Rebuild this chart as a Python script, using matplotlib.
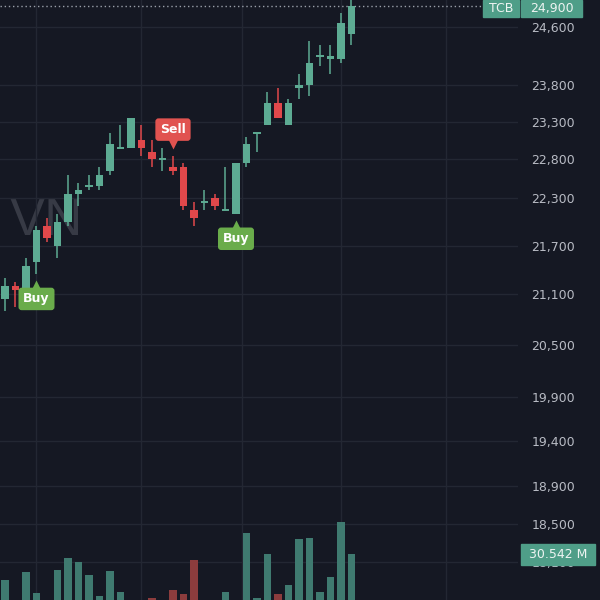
import matplotlib
matplotlib.use("Agg")
import matplotlib.pyplot as plt
from matplotlib.patches import Rectangle
from matplotlib.ticker import FixedLocator, NullLocator, FuncFormatter
from matplotlib.transforms import offset_copy

# ---------------- data ----------------
symbol = "TCB"
opens = [21050, 21200, 21150, 21500, 21950, 21700, 22000, 22350, 22450, 22450,
         22650, 22950, 22950, 23050, 22900, 22800, 22700, 22700, 22150, 22250,
         22300, 22150, 22100, 22750, 23150, 23250, 23550, 23250, 23750, 23800,
         24200, 24150, 24150, 24500]
highs = [21300, 21250, 21550, 21950, 22050, 22100, 22600, 22500, 22600, 22700,
         23150, 23250, 23350, 23250, 23050, 22950, 22850, 22750, 22250, 22400,
         22350, 22700, 22750, 23100, 23150, 23700, 23750, 23600, 23950, 24400,
         24350, 24350, 24800, 25000]
lows = [20900, 20950, 21050, 21350, 21750, 21550, 21950, 22200, 22400, 22400,
        22600, 22950, 22950, 22850, 22700, 22650, 22600, 22150, 21950, 22150,
        22150, 22150, 22100, 22700, 22900, 23250, 23350, 23250, 23600, 23650,
        24050, 23950, 24100, 24350]
closes = [21200, 21150, 21450, 21900, 21800, 22000, 22350, 22400, 22450, 22600,
          23000, 22950, 23350, 22950, 22800, 22800, 22650, 22200, 22050, 22250,
          22200, 22150, 22750, 23000, 23150, 23550, 23350, 23550, 23800, 24100,
          24200, 24200, 24650, 24900]
volumes_m = [19.4, 8.0, 22.8, 13.8, 9.0, 23.7, 28.8, 27.1, 21.5, 12.5,
             23.2, 14.2, 9.5, 7.5, 11.6, 6.5, 15.1, 13.3, 28.0, 8.0,
             9.0, 14.2, 9.0, 39.6, 11.6, 30.5, 13.3, 17.2, 37.0, 37.4,
             14.2, 20.6, 44.3, 30.542]
price_ticks = [24600, 23800, 23300, 22800, 22300, 21700, 21100, 20500,
               19900, 19400, 18900, 18500, 18100, 17700]
last_price = 24900
last_volume_label = "30.542 M"
signal_bars = [3, 16, 22]
signal_kinds = ["Buy", "Sell", "Buy"]
watermark = "VN"

# ---------------- style ----------------
BG = "#151823"
GRID = "#232733"
UP = "#5dab93"
DOWN = "#e1484b"
VOL_UP = "#3f7a70"
VOL_DOWN = "#8c3c3d"
LABEL_TEAL = "#4f9e88"
BUY_C = "#6aac4b"
SELL_C = "#e15350"
TXT = "#b8bbc4"

plt.rcParams['font.family'] = ['DejaVu Sans']

W, H = 600, 600
fig = plt.figure(figsize=(6, 6), dpi=100, facecolor=BG)

plot_w = 518 / W
n = len(opens)
xs = list(range(n))
xlim = (-0.476, 48.86)

# volume axes (behind / transparent)
ax = fig.add_axes([0, 0, plot_w, 1])
ax.set_facecolor(BG)
axv = fig.add_axes([0, -25 / H, plot_w, 300 / H], zorder=2)
axv.patch.set_alpha(0)

# price axes
ax.set_yscale('log')
ax.set_ylim(17707, 24984)
ax.set_xlim(*xlim)
ax.yaxis.set_major_locator(FixedLocator(price_ticks))
ax.yaxis.set_minor_locator(NullLocator())
ax.yaxis.set_major_formatter(FuncFormatter(lambda v, p: f"{v:,.0f}"))
ax.yaxis.tick_right()
ax.tick_params(axis='y', length=0, pad=9.5, labelsize=9, labelcolor=TXT)
ax.set_xticks([3, 13, 22.6, 32, 42])
ax.tick_params(axis='x', length=0, labelbottom=False)
ax.grid(True, color=GRID, lw=1.0)
ax.set_axisbelow(True)
for s in ax.spines.values():
    s.set_visible(False)

ax.text(46 / 518, 1 - 221 / H, watermark, transform=ax.transAxes,
        fontsize=38, color="#373a45", ha='center', va='center',
        family='Liberation Sans', zorder=0.5)

# candles
bw = 0.72
for i in xs:
    o, h, l, c = opens[i], highs[i], lows[i], closes[i]
    col = UP if c >= o else DOWN
    ax.vlines(i, l, h, color=col, lw=1.1, zorder=3)
    if o == c:
        ax.hlines(o, i - bw / 2, i + bw / 2, color=col, lw=1.4, zorder=3)
    else:
        ax.bar(i, abs(c - o), bottom=min(o, c), width=bw, color=col,
               lw=0, zorder=3)

# last price dotted line
ax.axhline(last_price, color="#9aa0aa", lw=1.0, ls=(0, (1, 2)), zorder=2)

# volume
vcols = [VOL_UP if closes[i] >= opens[i] else VOL_DOWN for i in xs]
axv.bar(xs, volumes_m, width=0.75, color=vcols, lw=0)
axv.set_xlim(*xlim)
axv.set_ylim(0, 300 * volumes_m[-1] / 71)
axv.axis('off')

# signal labels
for i, kind in zip(signal_bars, signal_kinds):
    if kind == "Buy":
        y, off, toff, mk, col = lows[i], -25, -11, '^', BUY_C
    else:
        y, off, toff, mk, col = highs[i], 26, 12, 'v', SELL_C
    ax.annotate(kind, xy=(i, y), xytext=(0, off), textcoords='offset pixels',
                ha='center', va='center', color='white', fontsize=9,
                fontweight='bold', zorder=6,
                bbox=dict(boxstyle='round,pad=0.38,rounding_size=0.25',
                          fc=col, ec='none'))
    ax.plot([i], [y], marker=mk, ms=7, color=col, mec='none', zorder=6,
            clip_on=False,
            transform=offset_copy(ax.transData, fig=fig, x=0, y=toff,
                                  units='dots'))

# top-right labels
def fig_box(x0, y0, x1, y1, color, text, fs=9):
    fig.patches.append(Rectangle((x0 / W, 1 - y1 / H), (x1 - x0) / W,
                                 (y1 - y0) / H, transform=fig.transFigure,
                                 color=color, zorder=5))
    fig.text((x0 + x1) / 2 / W, 1 - (y0 + y1) / 2 / H, text, ha='center',
             va='center', color="#eef4f2", fontsize=fs, zorder=6)

fig_box(483, 0, 519, 17, LABEL_TEAL, symbol)
fig_box(521, 0, 582, 17, LABEL_TEAL, f"{last_price:,}")
fig_box(521, 544, 595, 565, LABEL_TEAL, last_volume_label)

fig.savefig("out.png", dpi=100, facecolor=BG)
